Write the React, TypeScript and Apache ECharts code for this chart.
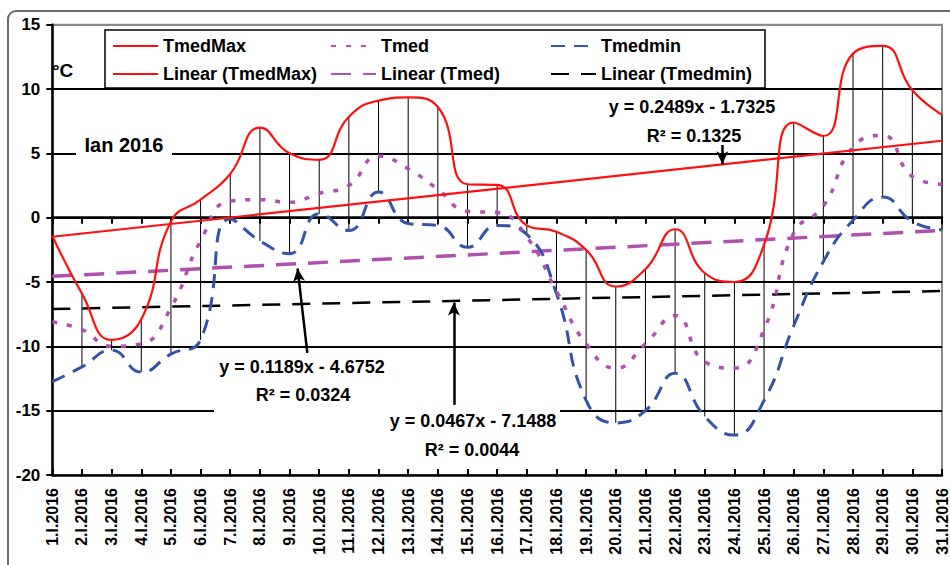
import React, { useEffect, useRef } from "react";
import * as echarts from "echarts";

const days = [
  "1.I.2016", "2.I.2016", "3.I.2016", "4.I.2016", "5.I.2016", "6.I.2016", "7.I.2016", "8.I.2016",
  "9.I.2016", "10.I.2016", "11.I.2016", "12.I.2016", "13.I.2016", "14.I.2016", "15.I.2016", "16.I.2016",
  "17.I.2016", "18.I.2016", "19.I.2016", "20.I.2016", "21.I.2016", "22.I.2016", "23.I.2016", "24.I.2016",
  "25.I.2016", "26.I.2016", "27.I.2016", "28.I.2016", "29.I.2016", "30.I.2016", "31.I.2016",
];

const tmedMax = [
  -1.4, -5.9, -9.5, -7.9, -0.3, 1.4, 3.4, 7.0, 5.0, 4.5, 7.85, 9.1, 9.35, 8.6, 2.6, 2.55,
  -0.6, -1.1, -2.5, -5.35, -4.0, -0.9, -4.3, -5.0, -2.1, 7.4, 6.35, 12.75, 13.35, 9.9, 8.0,
];
const tmed = [
  -8.1, -8.7, -10.0, -9.8, -7.0, -1.8, 1.3, 1.4, 1.2, 1.9, 2.5, 4.8, 3.8, 2.2, 0.5, 0.4,
  -1.5, -5.7, -9.8, -11.7, -9.8, -7.6, -11.2, -11.7, -8.7, -1.2, 0.9, 5.5, 6.4, 3.2, 2.6,
];
const tmedMin = [
  -12.75, -11.6, -10.3, -12.0, -10.6, -9.5, -0.1, -1.8, -2.8, 0.3, -1.0, 2.0, -0.45, -0.6, -2.3, -0.6,
  -1.3, -5.9, -14.2, -15.95, -15.0, -12.1, -15.45, -16.9, -14.2, -8.4, -3.4, -0.2, 1.6, -0.3, -0.95,
];

// trend line end values (first day, last day)
const trendMax = [-1.48, 5.98];
const trendMed = [-4.56, -0.99];
const trendMin = [-7.1, -5.7];

const yTicks = { min: -20, max: 15, step: 5 };

const eqMax = ["y = 0.2489x - 1.7325", "R² = 0.1325"];
const eqMed = ["y = 0.1189x - 4.6752", "R² = 0.0324"];
const eqMin = ["y = 0.0467x - 7.1488", "R² = 0.0044"];
const periodLabel = "Ian 2016";
const unitLabel = "°C";

// annotation arrows in data coordinates: [tail, head]
const arrows = [
  [[23.59, 5.65], [23.59, 4.15]],
  [[9.6, -10.5], [9.27, -3.95]],
  [[14.54, -14.55], [14.54, -6.6]],
];

const FONT = '"Liberation Sans", Arial, sans-serif';
const RED = "#ff1010";
const PURPLE = "#b04fb0";
const BLUE = "#3452a6";

export default function App() {
  const ref = useRef<HTMLDivElement>(null);

  useEffect(() => {
    if (!ref.current) return;
    const chart = echarts.init(ref.current, undefined, { renderer: "svg" });
    const n = days.length;
    const pts = (arr: number[]) => arr.map((v, i) => [i + 1, v]);
    const ends = (arr: number[]) => [[1, arr[0]], [n, arr[1]]];

    const textStyleBase = { fontFamily: FONT, fontWeight: "bold" as const, color: "#000" };

    const txt = (text: string, x: number, y: number, size: number, align = "center") => ({
      type: "text",
      x,
      y,
      z: 5,
      silent: true,
      style: {
        text,
        fill: "#000",
        fontFamily: FONT,
        fontWeight: "bold",
        fontSize: size,
        align,
        textAlign: align,
        verticalAlign: "middle",
        textVerticalAlign: "middle",
      },
    });
    const box = (x: number, y: number, w: number, h: number) => ({
      type: "rect",
      z: 1,
      silent: true,
      shape: { x, y, width: w, height: h },
      style: { fill: "#fff" },
    });

    const zeroAxisBase = {
      type: "value",
      min: 1,
      max: n,
      interval: 1,
      position: "bottom",
      axisLine: { show: true, onZero: true, lineStyle: { color: "#000", width: 2.5 } },
      axisLabel: { show: false },
      splitLine: { show: false },
    };

    const legendBase = {
      orient: "vertical",
      top: 37,
      itemWidth: 45,
      itemHeight: 14,
      itemGap: 10,
      padding: 0,
      selectedMode: false,
      itemStyle: { opacity: 0 },
      textStyle: { ...textStyleBase, fontSize: 18, lineHeight: 18 },
    };

    chart.setOption({
      animation: false,
      backgroundColor: "#fff",
      grid: {
        left: 52.3,
        right: 5,
        top: 24.7,
        bottom: 90,
        show: true,
        borderColor: "#8a8a8a",
        borderWidth: 2,
      },
      xAxis: [
        {
          type: "value",
          min: 1,
          max: n,
          interval: 1,
          position: "bottom",
          axisLine: { show: false, onZero: false },
          axisTick: { show: false },
          splitLine: { show: false },
          axisLabel: {
            rotate: 90,
            margin: 13,
            fontSize: 16,
            ...textStyleBase,
            formatter: (v: number) => days[Math.round(v) - 1] ?? "",
          },
        },
        { ...zeroAxisBase, axisTick: { show: true, length: 6, lineStyle: { color: "#000", width: 2 } } },
        { ...zeroAxisBase, axisTick: { show: true, inside: true, length: 6, lineStyle: { color: "#000", width: 2 } } },
      ],
      yAxis: {
        type: "value",
        min: yTicks.min,
        max: yTicks.max,
        interval: yTicks.step,
        axisLine: { show: true, onZero: false, lineStyle: { color: "#000", width: 2.5 } },
        axisTick: { show: true, length: 6, lineStyle: { color: "#000", width: 2 } },
        axisLabel: { margin: 12, fontSize: 17, ...textStyleBase },
        splitLine: {
          show: true,
          lineStyle: {
            width: 2,
            color: ["#8a8a8a", "#000", "#000", "#000", "#000", "#000", "#000", "#8a8a8a"],
          },
        },
      },
      legend: [
        { ...legendBase, left: 112, data: ["TmedMax", "Linear (TmedMax)"] },
        { ...legendBase, left: 330, data: ["Tmed", "Linear (Tmed)"] },
        { ...legendBase, left: 550, data: ["Tmedmin", "Linear (Tmedmin)"] },
      ],
      graphic: [
        {
          type: "rect",
          z: 0,
          silent: true,
          shape: { x: 8, y: 11, width: 980, height: 620, r: 8 },
          style: { fill: "none", stroke: "#6a6a6a", lineWidth: 2 },
        },
        {
          type: "rect",
          z: 3,
          silent: true,
          shape: { x: 105, y: 30, width: 660, height: 58 },
          style: { fill: "#fff", stroke: "#000", lineWidth: 1.5 },
        },
        box(76, 137, 96, 20),
        box(603, 93, 180, 56),
        box(214, 352, 176, 62),
        box(386, 407, 174, 56),
        txt(periodLabel, 124, 145, 20),
        txt(unitLabel, 52, 70, 19, "left"),
        txt(eqMax[0], 692, 107, 18),
        txt(eqMax[1], 694, 136, 18),
        txt(eqMed[0], 302, 367, 18),
        txt(eqMed[1], 303, 395, 18),
        txt(eqMin[0], 473, 421, 18),
        txt(eqMin[1], 472, 450, 18),
      ],
      series: [
        {
          type: "custom",
          name: "highlow",
          silent: true,
          z: 1,
          data: days.map((_, i) => [i + 1, tmedMax[i], tmedMin[i]]),
          encode: { x: 0, y: [1, 2] },
          renderItem: (_params: any, api: any) => {
            const a = api.coord([api.value(0), api.value(1)]);
            const b = api.coord([api.value(0), api.value(2)]);
            return {
              type: "line",
              shape: { x1: a[0], y1: a[1], x2: b[0], y2: b[1] },
              style: { stroke: "#000", lineWidth: 1 },
            };
          },
        },
        {
          name: "Linear (Tmedmin)",
          type: "line",
          symbol: "none",
          data: ends(trendMin),
          lineStyle: { color: "#000", width: 2.5, type: [18, 12] },
          itemStyle: { color: "#000" },
          markLine: {
            silent: true,
            symbol: ["none", "arrow"],
            symbolSize: [9, 13],
            label: { show: false },
            lineStyle: { color: "#000", width: 2.5, type: "solid" },
            data: arrows.map(([a, b]) => [{ coord: a }, { coord: b }]),
          },
        },
        {
          name: "Linear (Tmed)",
          type: "line",
          symbol: "none",
          data: ends(trendMed),
          lineStyle: { color: PURPLE, width: 3.5, type: [20, 12] },
          itemStyle: { color: PURPLE },
        },
        {
          name: "Tmedmin",
          type: "line",
          symbol: "none",
          smooth: 0.5,
          data: pts(tmedMin),
          lineStyle: { color: BLUE, width: 3, type: [14, 9] },
          itemStyle: { color: BLUE },
        },
        {
          name: "Tmed",
          type: "line",
          symbol: "none",
          smooth: 0.5,
          data: pts(tmed),
          lineStyle: { color: PURPLE, width: 3.5, type: [5, 10] },
          itemStyle: { color: PURPLE },
        },
        {
          name: "Linear (TmedMax)",
          type: "line",
          symbol: "none",
          data: ends(trendMax),
          lineStyle: { color: RED, width: 2.2 },
          itemStyle: { color: RED },
        },
        {
          name: "TmedMax",
          type: "line",
          symbol: "none",
          smooth: 0.5,
          data: pts(tmedMax),
          lineStyle: { color: RED, width: 2.2 },
          itemStyle: { color: RED },
        },
      ],
    });
    return () => chart.dispose();
  }, []);

  return (
    <div
      ref={ref}
      style={{ position: "absolute", left: 0, top: 0, width: 950, height: 565, background: "#fff" }}
    />
  );
}
